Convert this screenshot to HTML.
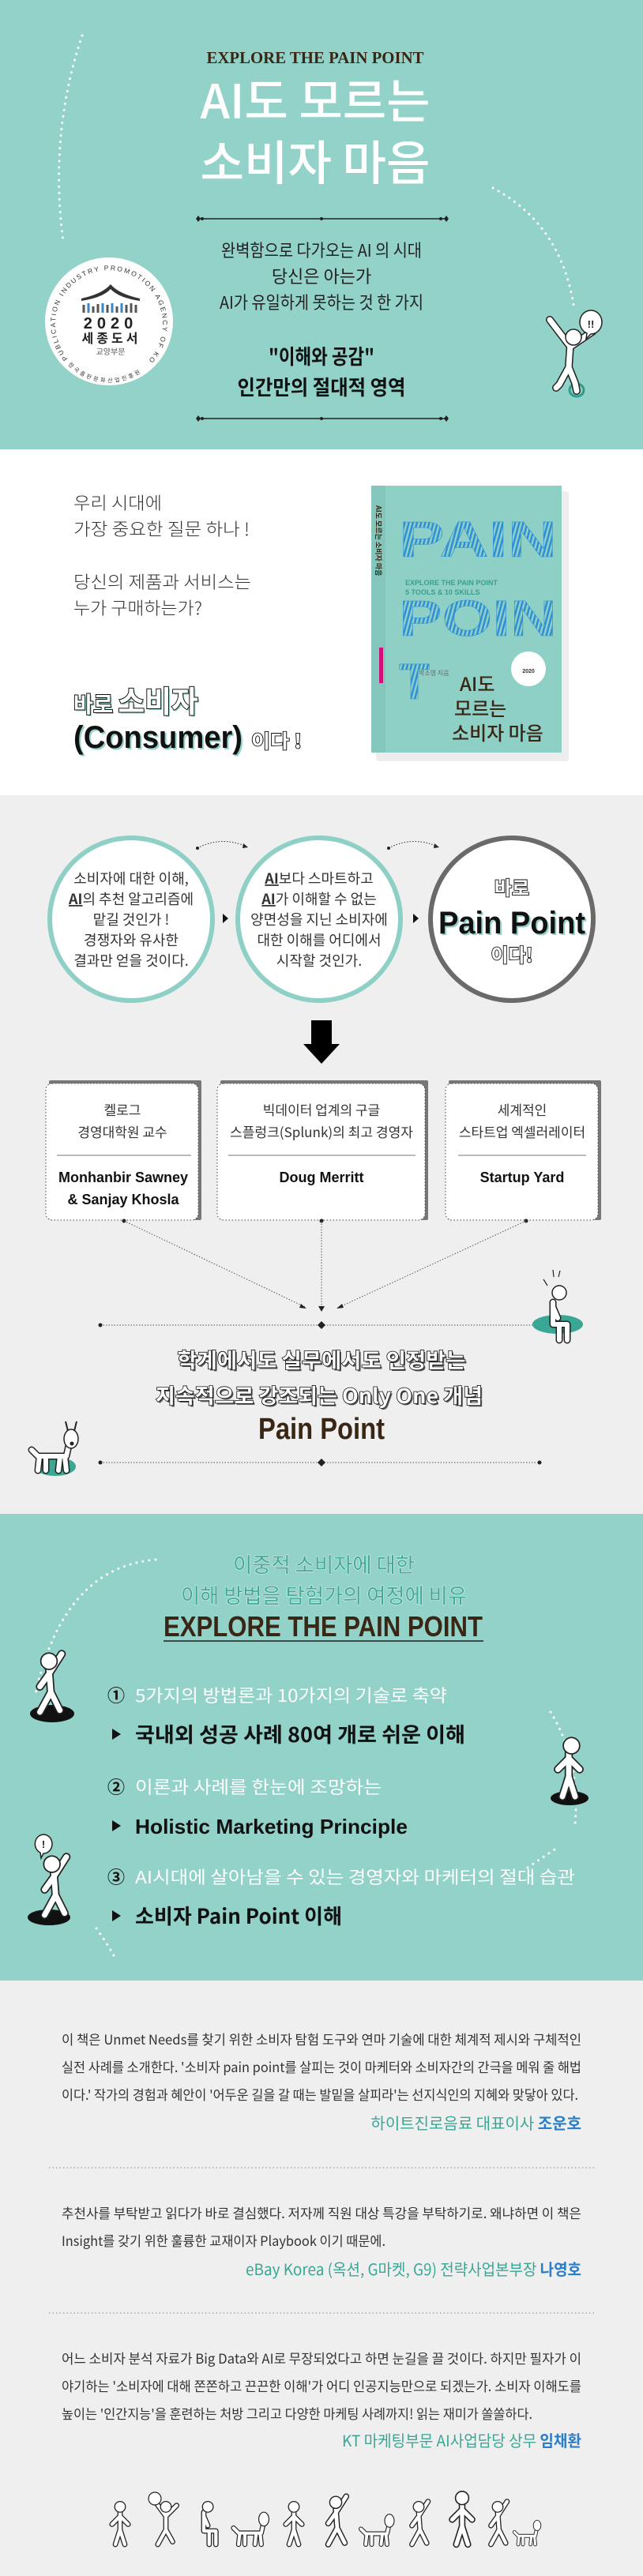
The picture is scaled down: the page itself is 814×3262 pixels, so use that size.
<!DOCTYPE html>
<html><head><meta charset="utf-8">
<style>
html,body{margin:0;padding:0;background:#fff}
svg{display:block}
text{font-family:"Liberation Sans","Noto Sans CJK KR",sans-serif}
.k{font-family:"Noto Sans CJK KR","Liberation Sans",sans-serif}
</style></head><body>
<svg width="814" height="3262" viewBox="0 0 814 3262" xmlns="http://www.w3.org/2000/svg">
<defs>
<pattern id="stripe" width="5" height="5" patternUnits="userSpaceOnUse" patternTransform="rotate(15)">
<rect width="5" height="5" fill="#8fd0c6"/><rect width="2.5" height="5" fill="#2f8fd6"/>
</pattern>
<path id="walk" d="M0,-48 L2,-22 M2,-22 L-10,0 M2,-22 L12,-2 M0,-42 L14,-64 M0,-42 L-10,-28" fill="none" stroke-linecap="round" stroke-linejoin="round"/>
<path id="stand" d="M0,-48 L0,-22 M0,-22 L-7,0 M0,-22 L7,0 M0,-42 L-12,-30 M0,-42 L12,-30" fill="none" stroke-linecap="round" stroke-linejoin="round"/>
<path id="cheer" d="M0,-48 L0,-22 M0,-22 L-12,0 M0,-22 L10,-4 M0,-42 L-16,-64 M0,-42 L16,-58" fill="none" stroke-linecap="round" stroke-linejoin="round"/>
<path id="sit" d="M0,-48 L0,-20 L18,-20 L18,0 M0,-20 L8,-20 L8,0 M0,-42 L6,-28" fill="none" stroke-linecap="round" stroke-linejoin="round"/>
<path id="dog" d="M-20,-18 L16,-18 M-18,-18 L-20,0 M-10,-18 L-10,0 M8,-18 L6,0 M14,-18 L16,0 M16,-18 L20,-36 M-20,-18 L-28,-26" fill="none" stroke-linecap="round" stroke-linejoin="round"/>
</defs>

<!-- ===== SECTION 1 teal ===== -->
<rect x="0" y="0" width="814" height="569" fill="#93d2c9"/>
<path d="M104,45 Q62,170 80,305" fill="none" stroke="#fff" stroke-width="3" stroke-dasharray="0.1 8" stroke-linecap="round"/>
<path d="M624,238 Q712,285 727,392" fill="none" stroke="#fff" stroke-width="3" stroke-dasharray="0.1 8" stroke-linecap="round"/>
<text x="399" y="80" text-anchor="middle" font-weight="bold" font-size="21" fill="#3a2614" textLength="275" lengthAdjust="spacingAndGlyphs" style="font-family:'Liberation Serif',serif">EXPLORE THE PAIN POINT</text>
<text class="k" x="399" y="150" text-anchor="middle" font-size="60" font-weight="500" fill="#fff" textLength="291" lengthAdjust="spacingAndGlyphs">AI도 모르는</text>
<text class="k" x="399" y="228" text-anchor="middle" font-size="60" font-weight="500" fill="#fff" textLength="291" lengthAdjust="spacingAndGlyphs">소비자 마음</text>
<g id="div1">
<line x1="250" y1="277" x2="565" y2="277" stroke="#222" stroke-width="1.5"/>
<path d="M248,277 l3,-4 3,4 -3,4z M562,277 l3,-4 3,4 -3,4z" fill="#222"/>
<circle cx="256" cy="277" r="2" fill="#222"/><circle cx="558" cy="277" r="2" fill="#222"/><circle cx="407" cy="277" r="2" fill="#222"/>
</g>
<text class="k" x="407" y="325" text-anchor="middle" font-size="22" fill="#222" textLength="254" lengthAdjust="spacingAndGlyphs">완벽함으로 다가오는 AI 의 시대</text>
<text class="k" x="407" y="358" text-anchor="middle" font-size="22" fill="#222">당신은 아는가</text>
<text class="k" x="407" y="391" text-anchor="middle" font-size="22" fill="#222" textLength="258" lengthAdjust="spacingAndGlyphs">AI가 유일하게 못하는 것 한 가지</text>
<text class="k" x="407" y="461" text-anchor="middle" font-size="26" font-weight="bold" fill="#111" textLength="134" lengthAdjust="spacingAndGlyphs">"이해와 공감"</text>
<text class="k" x="407" y="500" text-anchor="middle" font-size="26" font-weight="bold" fill="#111" textLength="213" lengthAdjust="spacingAndGlyphs">인간만의 절대적 영역</text>
<use href="#div1" transform="translate(0,253)"/>
<!-- badge -->
<circle cx="138" cy="407" r="81" fill="#fff"/>
<path id="bc" d="M86,454 A68,68 0 1,1 190,454" fill="none"/>
<text font-size="8.5" fill="#333"><textPath href="#bc" textLength="335" lengthAdjust="spacing">PUBLICATION INDUSTRY PROMOTION AGENCY OF KOREA</textPath></text>
<path d="M103,378 Q130,372 140,360 Q150,372 177,378 L177,381 Q150,377 140,366 Q130,377 103,381z" fill="#333"/>
<g stroke-width="3">
<line x1="106" y1="386" x2="106" y2="396" stroke="#555"/><line x1="112" y1="384" x2="112" y2="396" stroke="#3a86c8"/>
<line x1="118" y1="388" x2="118" y2="396" stroke="#555"/><line x1="124" y1="385" x2="124" y2="396" stroke="#555"/>
<line x1="130" y1="384" x2="130" y2="396" stroke="#3a86c8"/><line x1="136" y1="386" x2="136" y2="396" stroke="#555"/>
<line x1="142" y1="384" x2="142" y2="396" stroke="#3a86c8"/><line x1="148" y1="388" x2="148" y2="396" stroke="#555"/>
<line x1="154" y1="384" x2="154" y2="396" stroke="#3a86c8"/><line x1="160" y1="386" x2="160" y2="396" stroke="#555"/>
<line x1="166" y1="384" x2="166" y2="396" stroke="#555"/><line x1="172" y1="386" x2="172" y2="396" stroke="#555"/>
</g>
<text x="140" y="416" text-anchor="middle" font-size="20" font-weight="bold" fill="#222" letter-spacing="6">2020</text>
<text class="k" x="141" y="434" text-anchor="middle" font-size="16" font-weight="bold" fill="#222" letter-spacing="4">세종도서</text>
<text class="k" x="140" y="449" text-anchor="middle" font-size="10" fill="#555">교양부문</text>
<path id="bc2" d="M86,462 A72,72 0 0,0 190,462" fill="none"/>
<text class="k" font-size="7" fill="#333"><textPath href="#bc2" textLength="100" lengthAdjust="spacing">한국출판문화산업진흥원</textPath></text>
<!-- jumping figure -->
<ellipse cx="730" cy="494" rx="9" ry="8" fill="none" stroke="#2f9c8c" stroke-width="3"/>
<g transform="translate(722,495)">
<path d="M0,-60 L-2,-30 L-14,-8 L-18,-4 M-2,-30 L6,-10 L8,0 M0,-56 L-26,-90 M0,-56 L28,-75" fill="none" stroke="#222" stroke-width="10" stroke-linecap="round" stroke-linejoin="round"/>
<path d="M0,-60 L-2,-30 L-14,-8 L-18,-4 M-2,-30 L6,-10 L8,0 M0,-56 L-26,-90 M0,-56 L28,-75" fill="none" stroke="#fff" stroke-width="7" stroke-linecap="round" stroke-linejoin="round"/>
<circle cx="4" cy="-68" r="10" fill="#fff" stroke="#222" stroke-width="1.5"/>
</g>
<path d="M748,393 a14,15 0 1,1 0,30 l-6,6 1,-7 a14,15 0 0,1 5,-29z" fill="#fff" stroke="#222" stroke-width="1.5"/>
<text x="748" y="415" text-anchor="middle" font-size="13" font-weight="bold" fill="#222">!!</text>

<!-- ===== SECTION 2 white ===== -->
<rect x="0" y="569" width="814" height="438" fill="#fff"/>
<g class="k" font-size="22" fill="#333" font-weight="300">
<text class="k" x="93" y="645" textLength="112" lengthAdjust="spacingAndGlyphs">우리 시대에</text>
<text class="k" x="93" y="678" textLength="223" lengthAdjust="spacingAndGlyphs">가장 중요한 질문 하나 !</text>
<text class="k" x="93" y="745" textLength="225" lengthAdjust="spacingAndGlyphs">당신의 제품과 서비스는</text>
<text class="k" x="93" y="778" textLength="163" lengthAdjust="spacingAndGlyphs">누가 구매하는가?</text>
</g>
<g font-weight="bold">
<text class="k" x="95" y="904" font-size="28" fill="#93d2c9" textLength="158" lengthAdjust="spacingAndGlyphs">바로 <tspan font-size="38">소비자</tspan></text>
<text class="k" x="93" y="902" font-size="28" fill="#fff" stroke="#111" stroke-width="2" paint-order="stroke" textLength="158" lengthAdjust="spacingAndGlyphs">바로 <tspan font-size="38">소비자</tspan></text>
<text x="95" y="949" font-size="40" fill="#93d2c9" textLength="214" lengthAdjust="spacingAndGlyphs">(Consumer)</text>
<text x="93" y="947" font-size="40" fill="#111" textLength="214" lengthAdjust="spacingAndGlyphs">(Consumer)</text>
<text class="k" x="318" y="947" font-size="24" fill="#fff" stroke="#111" stroke-width="1.8" paint-order="stroke" textLength="64" lengthAdjust="spacingAndGlyphs">이다 !</text>
</g>
<!-- book -->
<rect x="476" y="622" width="244" height="342" fill="#000" opacity="0.07" rx="4"/>
<rect x="470" y="615" width="241" height="338" fill="#8fd0c6"/>
<rect x="470" y="615" width="18" height="338" fill="#84c6bc"/>
<rect x="480" y="820" width="5" height="45" fill="#d0117b"/>
<text class="k" transform="translate(476,640) rotate(90)" font-size="9" font-weight="bold" fill="#3a2614">AI도 모르는 소비자 마음</text>
<g font-size="64" font-weight="bold" fill="url(#stripe)" stroke="#2f8fd6" stroke-width="0.5">
<text x="505" y="705" textLength="200" lengthAdjust="spacingAndGlyphs">PAIN</text>
<text x="505" y="805" textLength="200" lengthAdjust="spacingAndGlyphs">POIN</text>
<text x="505" y="885">T</text>
</g>
<text x="513" y="741" font-size="9" font-weight="bold" fill="#3a9f8e">EXPLORE THE PAIN POINT</text>
<text x="513" y="753" font-size="9" font-weight="bold" fill="#3a9f8e">5 TOOLS &amp; 10 SKILLS</text>
<text class="k" x="530" y="855" font-size="8" fill="#666">박소영 지음</text>
<circle cx="669" cy="847" r="22" fill="#fff"/>
<text x="669" y="852" text-anchor="middle" font-size="7" font-weight="bold" fill="#333">2020</text>
<g class="k" font-size="24" font-weight="500" fill="#3a2614">
<text class="k" x="582" y="875">AI도</text>
<text class="k" x="575" y="906">모르는</text>
<text class="k" x="572" y="937">소비자 마음</text>
</g>

<!-- ===== SECTION 3 gray ===== -->
<rect x="0" y="1007" width="814" height="910" fill="#efefef"/>
<circle cx="166" cy="1164" r="103" fill="#fff" stroke="#8fd0c6" stroke-width="6"/>
<circle cx="404" cy="1164" r="103" fill="#fff" stroke="#8fd0c6" stroke-width="6"/>
<circle cx="648" cy="1164" r="103" fill="#fff" stroke="#6a6a6a" stroke-width="6"/>
<g class="k" font-size="18" fill="#333" text-anchor="middle">
<text class="k" x="166" y="1119">소비자에 대한 이해,</text>
<text class="k" x="166" y="1145"><tspan font-weight="bold" text-decoration="underline">AI</tspan>의 추천 알고리즘에</text>
<text class="k" x="166" y="1171">맡길 것인가 !</text>
<text class="k" x="166" y="1197">경쟁자와 유사한</text>
<text class="k" x="166" y="1223">결과만 얻을 것이다.</text>
<text class="k" x="404" y="1119"><tspan font-weight="bold" text-decoration="underline">AI</tspan>보다 스마트하고</text>
<text class="k" x="404" y="1145"><tspan font-weight="bold" text-decoration="underline">AI</tspan>가 이해할 수 없는</text>
<text class="k" x="404" y="1171">양면성을 지닌 소비자에</text>
<text class="k" x="404" y="1197">대한 이해를 어디에서</text>
<text class="k" x="404" y="1223">시작할 것인가.</text>
</g>
<text class="k" x="648" y="1133" text-anchor="middle" font-size="24" font-weight="bold" fill="#fff" stroke="#111" stroke-width="1.8" paint-order="stroke">바로</text>
<text x="650" y="1184" text-anchor="middle" font-size="40" font-weight="bold" fill="#93d2c9" textLength="186" lengthAdjust="spacingAndGlyphs">Pain Point</text>
<text x="648" y="1182" text-anchor="middle" font-size="40" font-weight="bold" fill="#111" textLength="186" lengthAdjust="spacingAndGlyphs">Pain Point</text>
<text class="k" x="648" y="1218" text-anchor="middle" font-size="24" font-weight="bold" fill="#fff" stroke="#111" stroke-width="1.8" paint-order="stroke">이다!</text>
<path d="M282,1157 l7,6 -7,6z M523,1157 l7,6 -7,6z" fill="#111"/>
<path d="M250,1074 Q280,1058 312,1072" fill="none" stroke="#333" stroke-width="1" stroke-dasharray="1.5 2"/>
<circle cx="250" cy="1074" r="2" fill="#222"/><path d="M308,1068 l6,5 -7,1z" fill="#222"/>
<path d="M492,1074 Q522,1058 554,1072" fill="none" stroke="#333" stroke-width="1" stroke-dasharray="1.5 2"/>
<circle cx="492" cy="1074" r="2" fill="#222"/><path d="M550,1068 l6,5 -7,1z" fill="#222"/>
<path d="M394,1292 h26 v30 h10 l-23,25 -23,-25 h10z" fill="#000"/>
<g>
<rect x="62" y="1368" width="193" height="177" fill="#777" rx="2"/>
<rect x="58" y="1372" width="193" height="173" fill="#fff" rx="8" stroke="#444" stroke-dasharray="1.5 2.5"/>
<rect x="279" y="1368" width="263" height="177" fill="#777" rx="2"/>
<rect x="275" y="1372" width="263" height="173" fill="#fff" rx="8" stroke="#444" stroke-dasharray="1.5 2.5"/>
<rect x="568" y="1368" width="193" height="177" fill="#777" rx="2"/>
<rect x="564" y="1372" width="193" height="173" fill="#fff" rx="8" stroke="#444" stroke-dasharray="1.5 2.5"/>
</g>
<g stroke="#bbb" stroke-width="2">
<line x1="72" y1="1463" x2="242" y2="1463"/><line x1="289" y1="1463" x2="526" y2="1463"/><line x1="580" y1="1463" x2="742" y2="1463"/>
</g>
<g class="k" font-size="17" fill="#333" text-anchor="middle">
<text class="k" x="155" y="1412">켈로그</text>
<text class="k" x="155" y="1440">경영대학원 교수</text>
<text class="k" x="407" y="1412">빅데이터 업계의 구글</text>
<text class="k" x="407" y="1440" textLength="232" lengthAdjust="spacingAndGlyphs">스플렁크(Splunk)의 최고 경영자</text>
<text class="k" x="661" y="1412">세계적인</text>
<text class="k" x="661" y="1440">스타트업 엑셀러레이터</text>
</g>
<g font-size="18" font-weight="bold" fill="#111" text-anchor="middle">
<text x="156" y="1497" textLength="164" lengthAdjust="spacingAndGlyphs">Monhanbir Sawney</text>
<text x="156" y="1525">&amp; Sanjay Khosla</text>
<text x="407" y="1497">Doug Merritt</text>
<text x="661" y="1497">Startup Yard</text>
</g>
<g fill="#222"><circle cx="157" cy="1546" r="2.5"/><circle cx="407" cy="1546" r="2.5"/><circle cx="666" cy="1546" r="2.5"/></g>
<g stroke="#555" stroke-dasharray="1.5 2" fill="none">
<line x1="157" y1="1546" x2="386" y2="1655"/><line x1="407" y1="1546" x2="407" y2="1657"/><line x1="666" y1="1546" x2="430" y2="1655"/>
</g>
<path d="M381,1651 l7,6 -9,-1z M403,1654 h8 l-4,7z M433,1651 l-7,6 9,-1z" fill="#222"/>
<line x1="127" y1="1678" x2="680" y2="1678" stroke="#555" stroke-dasharray="1.5 2"/>
<circle cx="127" cy="1678" r="2.5" fill="#222"/><path d="M402,1678 l5,-5 5,5 -5,5z" fill="#222"/>
<ellipse cx="706" cy="1677" rx="32" ry="12" fill="#3aa795"/>
<g transform="translate(700,1697)">
<use href="#sit" stroke="#222" stroke-width="9"/><use href="#sit" stroke="#fff" stroke-width="6"/>
<circle cx="8" cy="-60" r="9" fill="#fff" stroke="#222" stroke-width="1.5"/>
</g>
<path d="M688,1620 l5,8 M700,1608 l1,9 M709,1609 l-2,8" stroke="#222" stroke-width="1.2"/>
<g class="k" font-size="26" font-weight="bold" text-anchor="middle">
<text class="k" x="409" y="1734" fill="#555" textLength="365" lengthAdjust="spacingAndGlyphs">학계에서도 실무에서도 인정받는</text>
<text class="k" x="407" y="1732" fill="#fff" stroke="#111" stroke-width="1.6" paint-order="stroke" textLength="365" lengthAdjust="spacingAndGlyphs">학계에서도 실무에서도 인정받는</text>
<text class="k" x="406" y="1779" fill="#555" textLength="414" lengthAdjust="spacingAndGlyphs">지속적으로 강조되는 Only One 개념</text>
<text class="k" x="404" y="1777" fill="#fff" stroke="#111" stroke-width="1.6" paint-order="stroke" textLength="414" lengthAdjust="spacingAndGlyphs">지속적으로 강조되는 Only One 개념</text>
</g>
<text x="407" y="1822" text-anchor="middle" font-size="38" font-weight="bold" fill="#3a2614" textLength="160" lengthAdjust="spacingAndGlyphs">Pain Point</text>
<line x1="127" y1="1852" x2="683" y2="1852" stroke="#555" stroke-dasharray="1.5 2"/>
<circle cx="127" cy="1852" r="2.5" fill="#222"/><circle cx="683" cy="1852" r="2.5" fill="#222"/><path d="M402,1852 l5,-5 5,5 -5,5z" fill="#222"/>
<ellipse cx="70" cy="1857" rx="26" ry="12" fill="#3aa795"/>
<g transform="translate(68,1862)">
<use href="#dog" stroke="#222" stroke-width="9"/><use href="#dog" stroke="#fff" stroke-width="6"/>
<ellipse cx="22" cy="-40" rx="9" ry="12" fill="#fff" stroke="#222" stroke-width="1.5"/>
<circle cx="23" cy="-34" r="2.5" fill="#222"/>
<path d="M18,-50 l-3,-12 M26,-50 l3,-12" stroke="#222" stroke-width="2"/>
</g>

<!-- ===== SECTION 4 teal ===== -->
<rect x="0" y="1917" width="814" height="591" fill="#93d2c9"/>
<path d="M197,1975 Q80,1985 45,2145" fill="none" stroke="#fff" stroke-width="3" stroke-dasharray="0.1 8" stroke-linecap="round"/>
<path d="M697,2168 Q735,2230 728,2310" fill="none" stroke="#fff" stroke-width="3" stroke-dasharray="0.1 8" stroke-linecap="round"/>
<path d="M668,2365 Q690,2350 705,2340" fill="none" stroke="#fff" stroke-width="3" stroke-dasharray="0.1 8" stroke-linecap="round"/>
<path d="M122,2442 Q135,2460 145,2478" fill="none" stroke="#fff" stroke-width="3" stroke-dasharray="0.1 8" stroke-linecap="round"/>
<g class="k" font-size="26" text-anchor="middle" fill="#43a898" stroke="#e8f6f3" stroke-width="1" paint-order="stroke">
<text class="k" x="410" y="1991" textLength="230" lengthAdjust="spacingAndGlyphs">이중적 소비자에 대한</text>
<text class="k" x="410" y="2030" textLength="362" lengthAdjust="spacingAndGlyphs">이해 방법을 탐험가의 여정에 비유</text>
</g>
<text x="409" y="2072" text-anchor="middle" font-size="36" font-weight="bold" fill="#3a2614" textLength="404" lengthAdjust="spacingAndGlyphs">EXPLORE THE PAIN POINT</text>
<line x1="207" y1="2078" x2="612" y2="2078" stroke="#3a4a48" stroke-width="2"/>
<g class="k">
<text class="k" x="136" y="2155" font-size="22" font-weight="bold" fill="#111">①</text>
<text class="k" x="171" y="2155" font-size="22" fill="#fff" textLength="395" lengthAdjust="spacingAndGlyphs">5가지의 방법론과 10가지의 기술로 축약</text>
<path d="M142,2189 l11,7 -11,7z" fill="#111"/>
<text class="k" x="171" y="2206" font-size="26" font-weight="bold" fill="#111" textLength="418" lengthAdjust="spacingAndGlyphs">국내외 성공 사례 80여 개로 쉬운 이해</text>
<text class="k" x="136" y="2271" font-size="22" font-weight="bold" fill="#111">②</text>
<text class="k" x="171" y="2271" font-size="22" fill="#fff" textLength="312" lengthAdjust="spacingAndGlyphs">이론과 사례를 한눈에 조망하는</text>
<path d="M142,2305 l11,7 -11,7z" fill="#111"/>
<text x="171" y="2322" font-size="26" font-weight="bold" fill="#111" textLength="345" lengthAdjust="spacingAndGlyphs">Holistic Marketing Principle</text>
<text class="k" x="136" y="2385" font-size="22" font-weight="bold" fill="#111">③</text>
<text class="k" x="171" y="2385" font-size="22" fill="#fff" textLength="557" lengthAdjust="spacingAndGlyphs">AI시대에 살아남을 수 있는 경영자와 마케터의 절대 습관</text>
<path d="M142,2419 l11,7 -11,7z" fill="#111"/>
<text class="k" x="171" y="2436" font-size="26" font-weight="bold" fill="#111" textLength="262" lengthAdjust="spacingAndGlyphs">소비자 Pain Point 이해</text>
</g>
<ellipse cx="66" cy="2170" rx="28" ry="11" fill="#111"/>
<g transform="translate(62,2168) scale(1.15)">
<use href="#walk" stroke="#222" stroke-width="9"/><use href="#walk" stroke="#fff" stroke-width="6"/>
<circle cx="0" cy="-56" r="9" fill="#fff" stroke="#222" stroke-width="1.5"/>
</g>
<ellipse cx="721" cy="2277" rx="24" ry="9" fill="#111"/>
<g transform="translate(720,2275) scale(1.15)">
<use href="#stand" stroke="#222" stroke-width="9"/><use href="#stand" stroke="#fff" stroke-width="6"/>
<circle cx="3" cy="-56" r="9" fill="#fff" stroke="#222" stroke-width="1.5"/>
</g>
<ellipse cx="62" cy="2428" rx="27" ry="10" fill="#111"/>
<g transform="translate(68,2425) scale(1.15)">
<use href="#walk" stroke="#222" stroke-width="9"/><use href="#walk" stroke="#fff" stroke-width="6"/>
<circle cx="-2" cy="-56" r="9" fill="#fff" stroke="#222" stroke-width="1.5"/>
</g>
<path d="M55,2323 a11,12 0 1,1 0,24 l-3,6 -1,-7 a11,12 0 0,1 4,-23z" fill="#fff" stroke="#222" stroke-width="1.5"/>
<text x="55" y="2340" text-anchor="middle" font-size="13" font-weight="bold" fill="#222">!</text>

<!-- ===== SECTION 5 gray ===== -->
<rect x="0" y="2508" width="814" height="754" fill="#efefef"/>
<g class="k" font-size="17" fill="#333">
<text class="k" x="78" y="2589" textLength="658" lengthAdjust="spacingAndGlyphs">이 책은 Unmet Needs를 찾기 위한 소비자 탐험 도구와 연마 기술에 대한 체계적 제시와 구체적인</text>
<text class="k" x="78" y="2624" textLength="658" lengthAdjust="spacingAndGlyphs">실전 사례를 소개한다. '소비자 pain point를 살피는 것이 마케터와 소비자간의 간극을 메워 줄 해법</text>
<text class="k" x="78" y="2659" textLength="654" lengthAdjust="spacingAndGlyphs">이다.' 작가의 경험과 혜안이 '어두운 길을 갈 때는 발밑을 살피라'는 선지식인의 지혜와 맞닿아 있다.</text>
<text class="k" x="78" y="2809" textLength="658" lengthAdjust="spacingAndGlyphs">추천사를 부탁받고 읽다가 바로 결심했다. 저자께 직원 대상 특강을 부탁하기로. 왜냐하면 이 책은</text>
<text class="k" x="78" y="2844" textLength="410" lengthAdjust="spacingAndGlyphs">Insight를 갖기 위한 훌륭한 교재이자 Playbook 이기 때문에.</text>
<text class="k" x="78" y="2993" textLength="658" lengthAdjust="spacingAndGlyphs">어느 소비자 분석 자료가 Big Data와 AI로 무장되었다고 하면 눈길을 끌 것이다. 하지만 필자가 이</text>
<text class="k" x="78" y="3028" textLength="658" lengthAdjust="spacingAndGlyphs">야기하는 '소비자에 대해 쫀쫀하고 끈끈한 이해'가 어디 인공지능만으로 되겠는가. 소비자 이해도를</text>
<text class="k" x="78" y="3063" textLength="596" lengthAdjust="spacingAndGlyphs">높이는 '인간지능'을 훈련하는 처방 그리고 다양한 마케팅 사례까지! 읽는 재미가 쏠쏠하다.</text>
</g>
<g class="k" font-size="20" text-anchor="end">
<text class="k" x="736" y="2696" fill="#3aa795">하이트진로음료 대표이사 <tspan fill="#2b7ec8" font-weight="bold">조운호</tspan></text>
<text class="k" x="736" y="2881" fill="#3aa795" textLength="425" lengthAdjust="spacingAndGlyphs">eBay Korea (옥션, G마켓, G9) 전략사업본부장 <tspan fill="#2b7ec8" font-weight="bold">나영호</tspan></text>
<text class="k" x="736" y="3098" fill="#3aa795" textLength="303" lengthAdjust="spacingAndGlyphs">KT 마케팅부문 AI사업담당 상무 <tspan fill="#2b7ec8" font-weight="bold">임채환</tspan></text>
</g>
<line x1="62" y1="2745" x2="752" y2="2745" stroke="#aaa" stroke-width="1.5" stroke-dasharray="1.5 3"/>
<line x1="62" y1="2929" x2="752" y2="2929" stroke="#aaa" stroke-width="1.5" stroke-dasharray="1.5 3"/>
<g>
<g transform="translate(152,3222) scale(0.85)"><use href="#stand" stroke="#222" stroke-width="8"/><use href="#stand" stroke="#fff" stroke-width="5"/><circle cx="0" cy="-56" r="8" fill="#fff" stroke="#222" stroke-width="1.5"/></g>
<g transform="translate(210,3222) scale(0.85)"><use href="#cheer" stroke="#222" stroke-width="8"/><use href="#cheer" stroke="#fff" stroke-width="5"/><circle cx="0" cy="-56" r="8" fill="#fff" stroke="#222" stroke-width="1.5"/></g>
<circle cx="196" cy="3164" r="8" fill="#fff" stroke="#222" stroke-width="1.2"/>
<g transform="translate(258,3222) scale(0.85)"><use href="#sit" stroke="#222" stroke-width="8"/><use href="#sit" stroke="#fff" stroke-width="5"/><circle cx="6" cy="-56" r="8" fill="#fff" stroke="#222" stroke-width="1.5"/></g>
<g transform="translate(318,3222) scale(0.8)"><use href="#dog" stroke="#222" stroke-width="8"/><use href="#dog" stroke="#fff" stroke-width="5"/><ellipse cx="20" cy="-40" rx="8" ry="11" fill="#fff" stroke="#222" stroke-width="1.5"/></g>
<g transform="translate(372,3222) scale(0.85)"><use href="#stand" stroke="#222" stroke-width="8"/><use href="#stand" stroke="#fff" stroke-width="5"/><circle cx="0" cy="-56" r="8" fill="#fff" stroke="#222" stroke-width="1.5"/></g>
<g transform="translate(425,3222) scale(0.95)"><use href="#walk" stroke="#222" stroke-width="8"/><use href="#walk" stroke="#fff" stroke-width="5"/><circle cx="0" cy="-56" r="8" fill="#fff" stroke="#222" stroke-width="1.5"/></g>
<g transform="translate(478,3222) scale(0.75)"><use href="#dog" stroke="#222" stroke-width="8"/><use href="#dog" stroke="#fff" stroke-width="5"/><ellipse cx="20" cy="-40" rx="8" ry="11" fill="#fff" stroke="#222" stroke-width="1.5"/></g>
<g transform="translate(530,3222) scale(0.85)"><use href="#walk" stroke="#222" stroke-width="8"/><use href="#walk" stroke="#fff" stroke-width="5"/><circle cx="0" cy="-56" r="8" fill="#fff" stroke="#222" stroke-width="1.5"/></g>
<g transform="translate(585,3222) scale(1.05)"><use href="#stand" stroke="#222" stroke-width="8"/><use href="#stand" stroke="#fff" stroke-width="5"/><circle cx="0" cy="-56" r="8" fill="#fff" stroke="#222" stroke-width="1.5"/></g>
<g transform="translate(630,3222) scale(0.85)"><use href="#walk" stroke="#222" stroke-width="8"/><use href="#walk" stroke="#fff" stroke-width="5"/><circle cx="0" cy="-56" r="8" fill="#fff" stroke="#222" stroke-width="1.5"/></g>
<g transform="translate(668,3222) scale(0.6)"><use href="#dog" stroke="#222" stroke-width="8"/><use href="#dog" stroke="#fff" stroke-width="5"/><ellipse cx="20" cy="-40" rx="8" ry="11" fill="#fff" stroke="#222" stroke-width="1.5"/></g>
</g>
</svg>
</body></html>
